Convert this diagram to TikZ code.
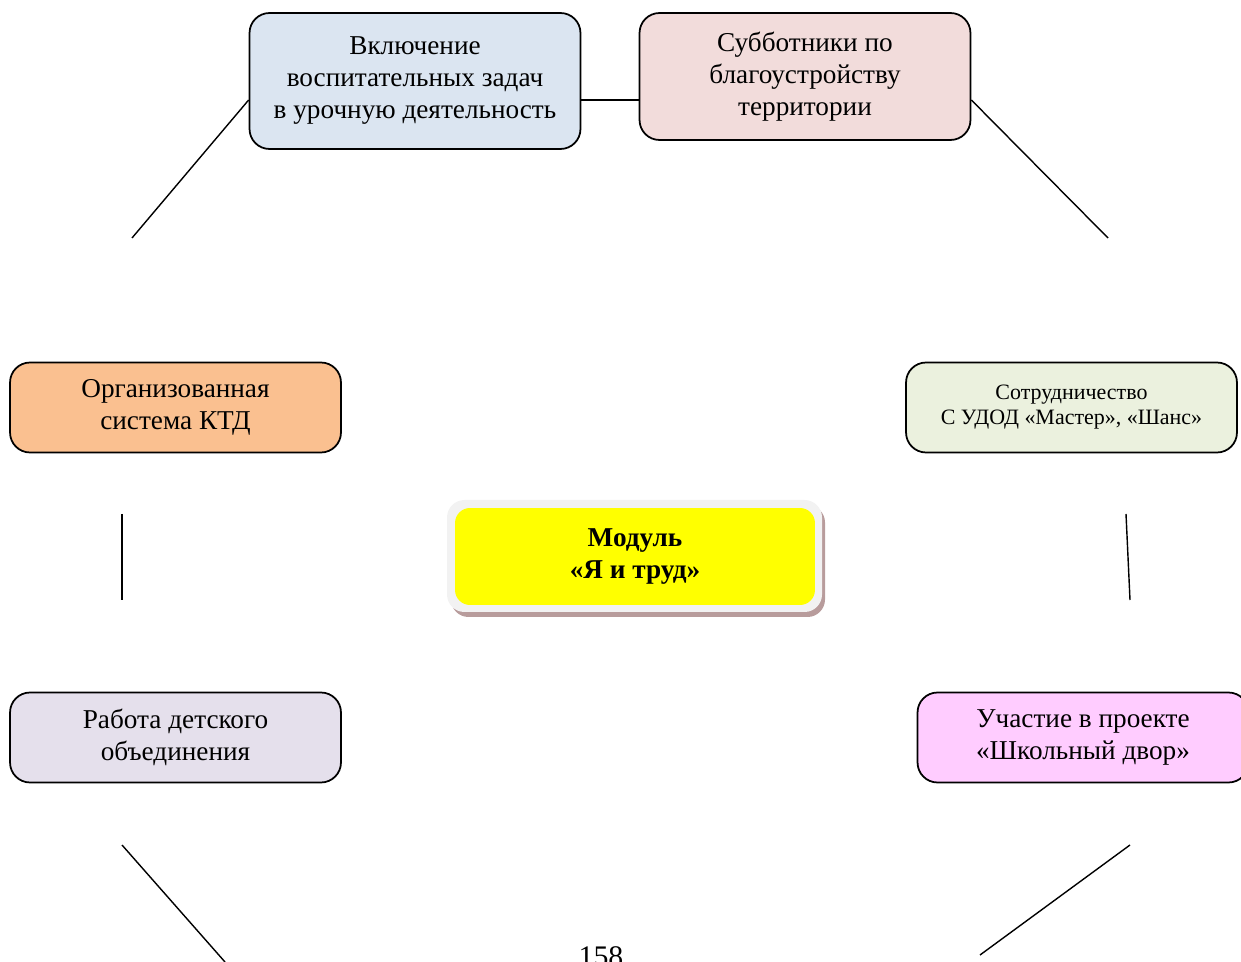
\documentclass[tikz,border=0pt]{standalone}
\usepackage{fontspec}
\setmainfont{Liberation Serif}
\usepackage{tikz}
\usetikzlibrary{positioning}
\definecolor{cblue}{HTML}{DBE5F1}
\definecolor{cpink}{HTML}{F2DCDB}
\definecolor{corange}{HTML}{FAC090}
\definecolor{cgreen}{HTML}{EBF1DE}
\definecolor{clilac}{HTML}{E5E0EC}
\definecolor{cviolet}{HTML}{FFCCFF}
\definecolor{cshadow}{HTML}{B89C9C}
\definecolor{cyellow}{HTML}{FFFF00}
\tikzset{
modbox/.style = {draw, line width=1pt, rounded corners=0.4cm, align=center,
  minimum width=6.62cm, minimum height=#1, inner sep=2pt,
  font=\fontsize{15.5}{18.2}\selectfont},
modbox/.default = 1.8cm % box height
}
\tikzset{bl/.style={fill=cblue}}
\tikzset{pk/.style={fill=cpink}}
\tikzset{og/.style={fill=corange}}
\tikzset{gr/.style={fill=cgreen}}
\tikzset{li/.style={fill=clilac}}
\tikzset{vi/.style={fill=cviolet}}
\tikzset{link/.style={line width=0.8pt}}

\begin{document}
\begin{tikzpicture}[x=0.02cm, y=-0.02cm]
      \useasboundingbox (0,0) rectangle (1241,962);
      % centre block
      \fill [cshadow, rounded corners=0.35cm] (451,505) rectangle (825,617);
      \fill [gray!10, rounded corners=0.35cm] (447,500) rectangle (822,612);
      \node [fill=cyellow, rounded corners=0.3cm, minimum width=7.2cm, minimum height=1.94cm,
        align=center, font=\bfseries\fontsize{15.5}{18.5}\selectfont] (mod) at (635,556.5)
        {Модуль\\«Я и труд»};
      % outer boxes
      \node [modbox=2.72cm, bl] (incl) at (415,81) {Включение\\воспитательных задач\\в урочную деятельность};
      \node [modbox=2.54cm, pk] (subb) at (805,76.5) {Субботники по\\благоустройству\\территории};
      \node [modbox, og] (ktd) at (175.5,407.5) {Организованная\\система КТД};
      \node [modbox, gr, font=\fontsize{12.5}{14.2}\selectfont] (coop) at (1071.5,407.5) {Сотрудничество\\С УДОД «Мастер», «Шанс»};
      \node [modbox, li] (club) at (175.5,737.5) {Работа детского\\объединения};
      \node [modbox, vi] (yard) at (1083,737.5) {Участие в проекте\\«Школьный двор»};
      % free ends
      \coordinate (a1) at (132,238);
      \coordinate (a2) at (1108,238);
      \coordinate (b1) at (122,514);
      \coordinate (b2) at (122,600);
      \coordinate (c1) at (1126,514);
      \coordinate (c2) at (1130,600);
      \coordinate (d1) at (122,845);
      \coordinate (d2) at (225,962);
      \coordinate (e1) at (1130,845);
      \coordinate (e2) at (980,955);
      \draw [link] ([yshift=-0.38cm]incl.east) -- ([yshift=-0.38cm]incl.east -| subb.west);
      \draw [link] ([yshift=-0.38cm]incl.west) -- (a1);
      \draw [link] ([yshift=-0.47cm]subb.east) -- (a2);
      \draw [link] (b1) -- (b2);
      \draw [link] (c1) -- (c2);
      \draw [link] (d1) -- (d2);
      \draw [link] (e1) -- (e2);
      \node [anchor=north, font=\fontsize{17}{20}\selectfont, inner sep=0pt] (page) at (601,946) {158};
    \end{tikzpicture}
\end{document}
